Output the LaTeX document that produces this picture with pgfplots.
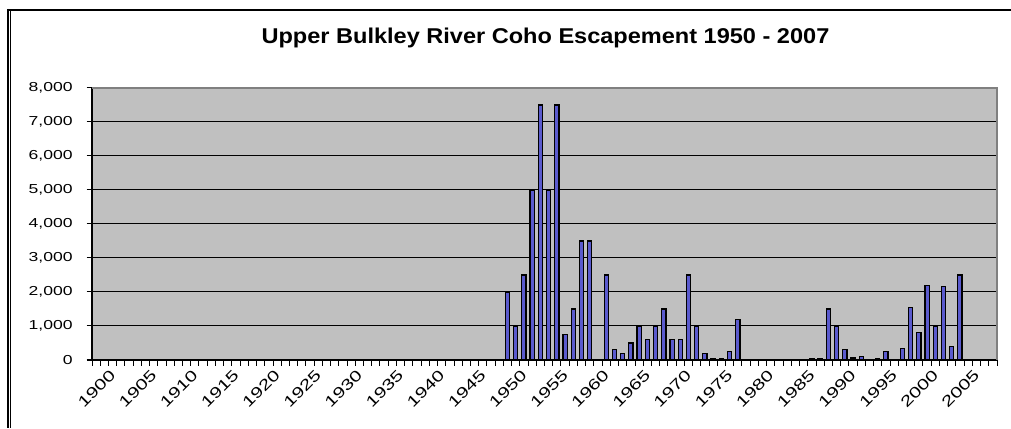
\documentclass[border=0pt]{standalone}
\usepackage{pgfplots}
\pgfplotsset{compat=1.18}
\usepackage{fontspec}
\setmainfont{Liberation Sans}
\newfontfamily\tickfont[FakeStretch=1.35]{Liberation Sans}
\newfontfamily\titlefont[FakeStretch=1.1]{Liberation Sans}

\definecolor{plotbg}{RGB}{192,192,192}
\definecolor{barblue}{RGB}{90,90,205}
\definecolor{framegray}{RGB}{128,128,128}

\begin{document}
\begin{tikzpicture}
\useasboundingbox (0,0) rectangle (505.5pt,214pt);
% chart frame (top line, double line on the left)
\draw[line width=1pt] (3.5pt,209pt) -- (505.5pt,209pt);
\draw[line width=0.8pt] (3.9pt,209.5pt) -- (3.9pt,0pt);
\draw[line width=0.5pt] (5.2pt,208.5pt) -- (5.2pt,0pt);
\begin{axis}[
    at={(46pt,34pt)}, anchor=south west,
    scale only axis,
    width=452.5pt, height=136pt,
    xmin=1899.5, xmax=2009.5,
    ymin=0, ymax=8000,
    axis background/.style={fill=plotbg},
    axis x line*=bottom, axis y line*=left,
    axis line style={black, line width=0.6pt},
    ybar,
    bar width=2.1pt,
    ytick={0,1000,...,8000},
    minor ytick={0,1000,...,8000},
    xtick={1900,1905,...,2005},
    minor xtick={1899.5,1900.5,...,2009.5},
    major tick length=0pt,
    minor tick length=2.75pt,
    tick align=outside,
    every minor tick/.style={black, line width=0.5pt},
    ymajorgrids,
    grid style={black, line width=0.5pt},
    /pgf/number format/assume math mode=true,
    yticklabel style={font=\tickfont\fontsize{6.5pt}{7pt}\selectfont,
        anchor=east, inner sep=0pt, xshift=-9.5pt,
        /pgf/number format/1000 sep={,}},
    xticklabel style={font=\tickfont\fontsize{7.6pt}{8pt}\selectfont,
        rotate=45, anchor=north east, inner sep=0pt, yshift=-7.5pt, xshift=1.5pt,
        /pgf/number format/1000 sep={}},
    title={\titlefont\bfseries Upper Bulkley River Coho Escapement 1950 - 2007},
    title style={font=\fontsize{10.7pt}{12pt}\selectfont, at={(0.5,1)}, anchor=base, yshift=16pt, xshift=0.5pt},
    clip=false,
]
\addplot[draw=black, line width=0.6pt, fill=barblue] coordinates {
(1950,2000) (1951,1000) (1952,2500) (1953,5000) (1954,7500) (1955,5000)
(1956,7500) (1957,750) (1958,1500) (1959,3500) (1960,3500) (1962,2500)
(1963,300) (1964,200) (1965,500) (1966,1000) (1967,600) (1968,1000)
(1969,1500) (1970,600) (1971,600) (1972,2500) (1973,1000) (1974,200)
(1975,40) (1976,40) (1977,250) (1978,1200) (1987,40) (1988,40)
(1989,1500) (1990,1000) (1991,300) (1992,60) (1993,100) (1995,40)
(1996,250) (1998,330) (1999,1550) (2000,800) (2001,2200) (2002,1000)
(2003,2150) (2004,400) (2005,2500)
};
% plot area border on top and right
\draw[framegray, line width=1.2pt] (rel axis cs:0,1) -- (rel axis cs:1,1) -- (rel axis cs:1,0);
\end{axis}
\end{tikzpicture}
\end{document}
